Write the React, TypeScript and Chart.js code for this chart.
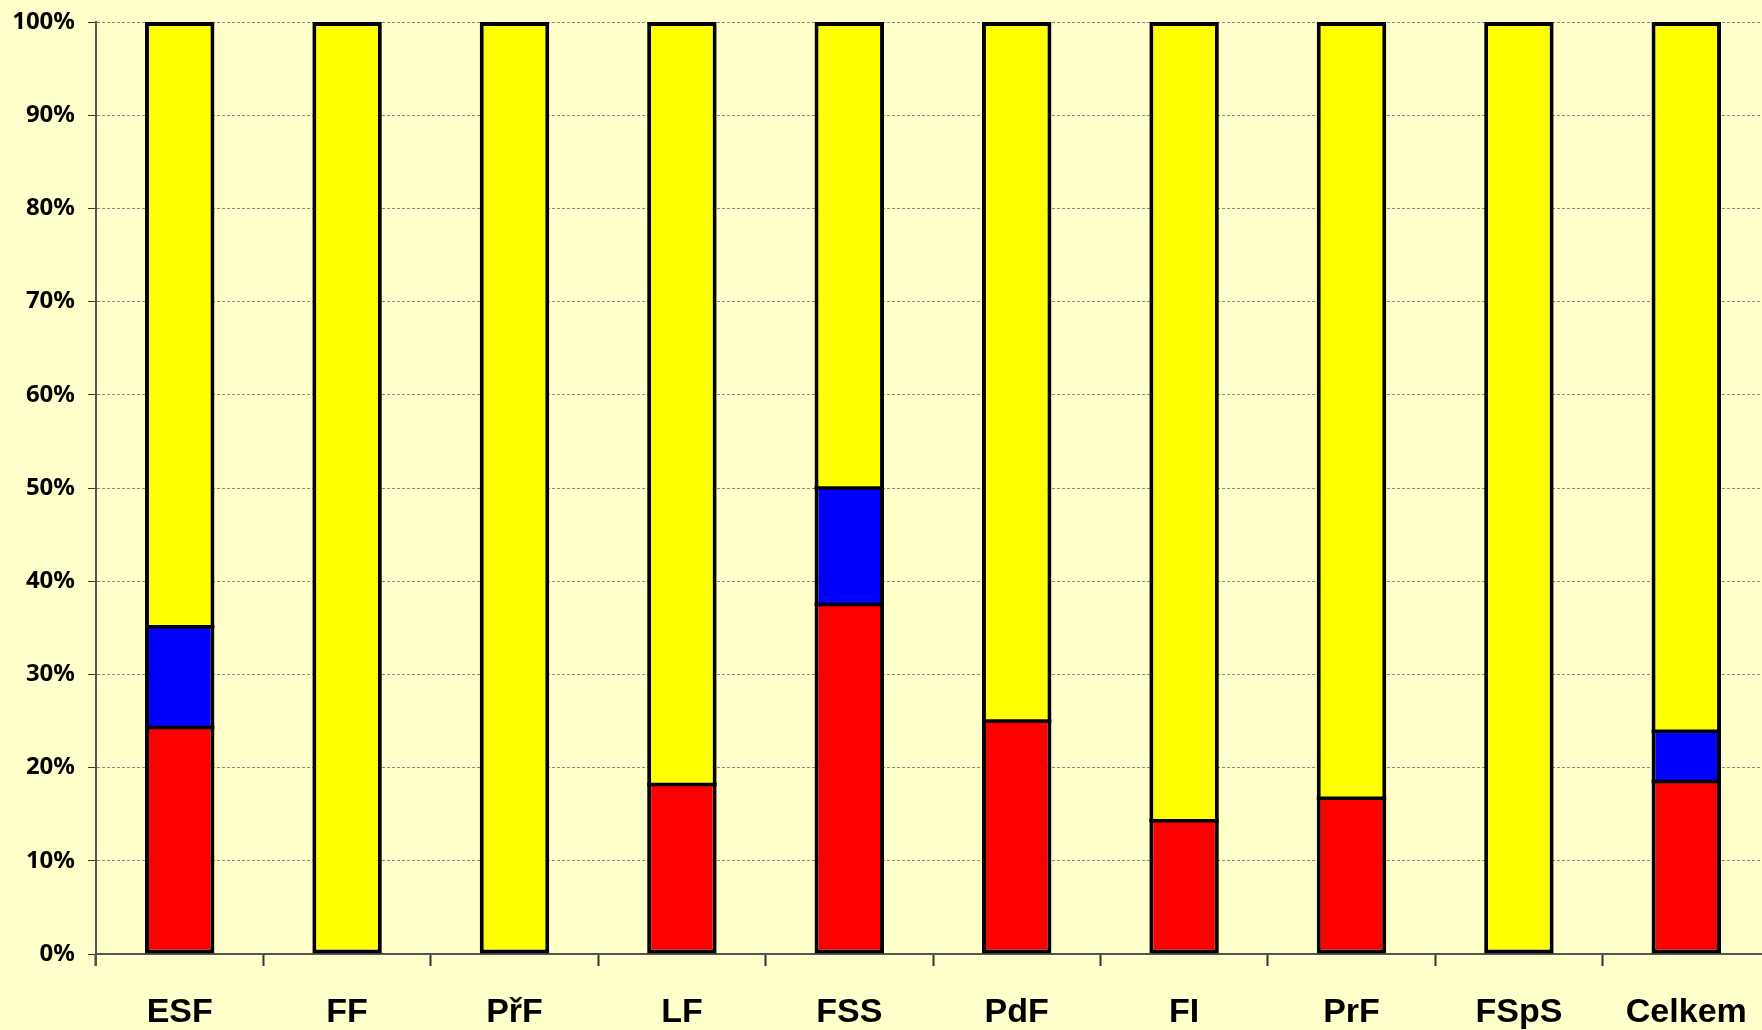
import React, { useEffect, useRef } from "react";
import { Chart, registerables } from "chart.js";

Chart.register(...registerables);

const categories = ["ESF", "FF", "PřF", "LF", "FSS", "PdF", "FI", "PrF", "FSpS", "Celkem"];
const redValues = [24.3, 0, 0, 18.2, 37.5, 25.0, 14.3, 16.7, 0, 18.5];
const blueValues = [10.8, 0, 0, 0, 12.5, 0, 0, 0, 0, 5.4];
const yellowValues = [64.9, 100, 100, 81.8, 50.0, 75.0, 85.7, 83.3, 100, 76.1];
const yTicks = [0, 10, 20, 30, 40, 50, 60, 70, 80, 90, 100];

export default function App() {
  const ref = useRef<HTMLCanvasElement | null>(null);

  useEffect(() => {
    if (!ref.current) return;
    const series = [redValues, blueValues, yellowValues];
    const belowSum = (dsIndex: number, i: number) => {
      let s = 0;
      for (let k = 0; k < dsIndex; k++) s += series[k][i];
      return s;
    };
    const aboveSum = (dsIndex: number, i: number) => {
      let s = 0;
      for (let k = dsIndex + 1; k < series.length; k++) s += series[k][i];
      return s;
    };
    const BW = 4;
    const mk = (label: string, data: number[], color: string, idx: number) => ({
      label,
      data,
      backgroundColor: color,
      borderColor: "#000000",
      borderWidth: (ctx: any) => ({
        left: BW,
        right: BW,
        top: aboveSum(idx, ctx.dataIndex) > 0 ? 0 : BW,
        bottom: belowSum(idx, ctx.dataIndex) > 0 ? 0 : BW,
      }),
      borderSkipped: false,
      barPercentage: 0.415,
      categoryPercentage: 1.0,
    });
    const chart = new Chart(ref.current, {
      type: "bar",
      data: {
        labels: categories,
        datasets: [
          mk("red", redValues, "#FF0000", 0),
          mk("blue", blueValues, "#0000FF", 1),
          mk("yellow", yellowValues, "#FFFF00", 2),
        ] as any,
      },
      options: {
        animation: false,
        responsive: false,
        maintainAspectRatio: false,
        layout: { padding: { top: 22, right: 0, left: 0, bottom: 0 } },
        plugins: { legend: { display: false }, tooltip: { enabled: false } },
        scales: {
          x: {
            stacked: true,
            offset: true,
            grid: {
              offset: true,
              drawOnChartArea: false,
              drawTicks: true,
              tickLength: 12,
              tickWidth: 2,
              tickColor: "#333333",
            },
            border: { display: true, color: "#555555", width: 2 },
            ticks: {
              color: "#000000",
              font: { family: "Liberation Sans", weight: "bold", size: 34 },
              padding: 26,
              maxRotation: 0,
              autoSkip: false,
            },
            afterFit: (s: any) => {
              s.height = 76;
              s.paddingLeft = 0;
              s.paddingRight = 0;
            },
          },
          y: {
            stacked: true,
            min: 0,
            max: 100,
            afterBuildTicks: (s: any) => {
              s.ticks = yTicks.map((v) => ({ value: v }));
            },
            grid: {
              color: "#888888",
              lineWidth: 1,
              drawTicks: true,
              tickLength: 8,
              tickColor: "#333333",
              tickBorderDash: [],
            } as any,
            border: { display: true, color: "#555555", width: 2, dash: [3, 2] } as any,
            ticks: {
              color: "#000000",
              font: { family: "Noto Sans", weight: "bold", size: 24 },
              padding: 13,
              callback: (v: any) => v + "%",
            },
            afterFit: (s: any) => {
              s.width = 96;
              s.paddingTop = 0;
              s.paddingBottom = 0;
            },
          },
        },
      },
      plugins: [
        {
          id: "segmentSeams",
          afterDatasetsDraw: (c: any) => {
            const ctx = c.ctx;
            ctx.save();
            ctx.strokeStyle = "#000000";
            ctx.lineWidth = 3.5;
            for (let d = 1; d < series.length; d++) {
              const meta = c.getDatasetMeta(d);
              meta.data.forEach((bar: any, i: number) => {
                if (series[d][i] > 0 && belowSum(d, i) > 0) {
                  const p = bar.getProps(["x", "base", "width"], true);
                  ctx.beginPath();
                  ctx.moveTo(p.x - p.width / 2, p.base);
                  ctx.lineTo(p.x + p.width / 2, p.base);
                  ctx.stroke();
                }
              });
            }
            ctx.restore();
          },
        },
        {
          id: "axisLineSolid",
          afterDraw: (c: any) => {
            const ctx = c.ctx;
            const a = c.chartArea;
            ctx.save();
            ctx.strokeStyle = "#555555";
            ctx.lineWidth = 2;
            ctx.beginPath();
            ctx.moveTo(a.left, a.top);
            ctx.lineTo(a.left, a.bottom + 12);
            ctx.stroke();
            ctx.restore();
          },
        },
      ],
    });
    return () => chart.destroy();
  }, []);

  return (
    <div
      style={{
        position: "fixed",
        left: 0,
        top: 0,
        width: "1762px",
        height: "1030px",
        overflow: "hidden",
        background: "#FFFFCC",
      }}
    >
      <canvas ref={ref} width={1770} height={1030} style={{ display: "block", width: "1770px", height: "1030px" }} />
    </div>
  );
}
